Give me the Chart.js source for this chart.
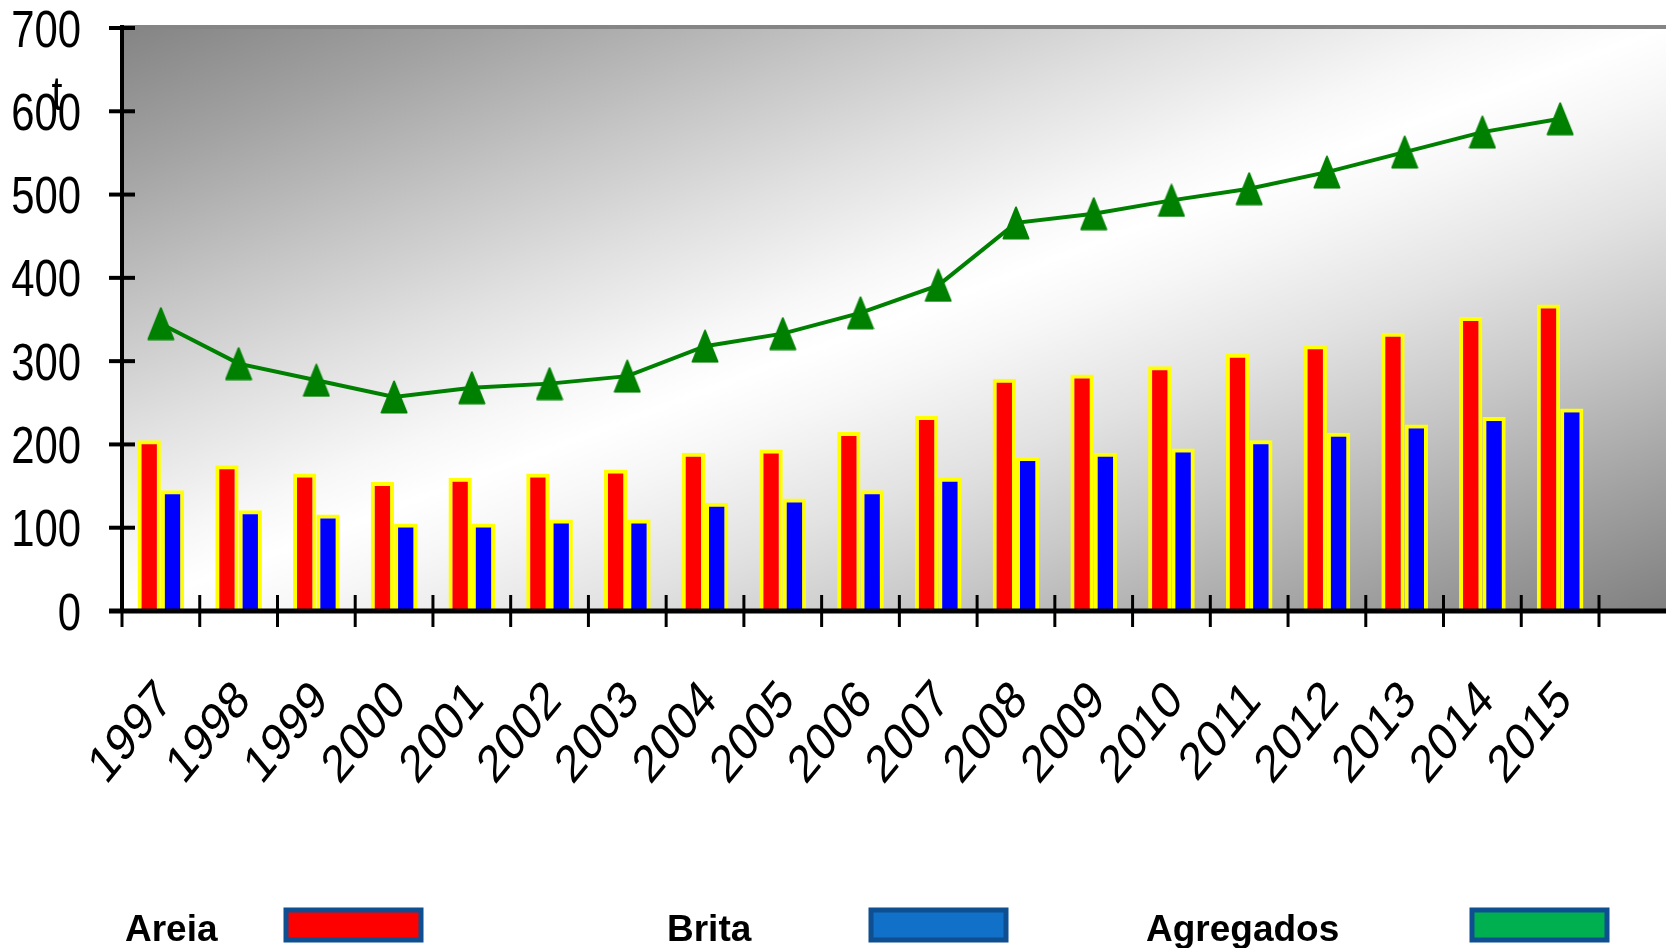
<!DOCTYPE html>
<html><head><meta charset="utf-8">
<script src="https://cdn.jsdelivr.net/npm/chart.js@4.4.1/dist/chart.umd.min.js"></script>
<style>html,body{margin:0;padding:0;background:#fff;overflow:hidden}canvas{display:block}</style>
</head><body>
<canvas id="c" width="1666" height="948"></canvas>
<script>
const years = ['1997','1998','1999','2000','2001','2002','2003','2004','2005','2006','2007','2008','2009','2010','2011','2012','2013','2014','2015'];
const areia = [205,175,165,155,160,165,170,190,194,215,234,279,284,294,309,319,334,353,368];
const brita = [145,121,116,105,105,110,110,130,135,145,160,185,190,195,205,214,224,233,243];
const agregados = [345,297,277,257,268,273,282,318,333,358,391,466,477,493,507,527,551,575,591];
const yTickValues = [0,100,200,300,400,500,600,700];
const unitLabel = 't';
const legendLabels = ['Areia','Brita','Agregados'];
const legendFills = ['#ff0000','#1170c8','#00b050'];

const SQ = 0.82; // horizontal squeeze of text seen in the reference
const FONT = '"Liberation Sans", Arial, sans-serif';

function makeTriangle(){
  const c=document.createElement('canvas'); c.width=28; c.height=34;
  const g=c.getContext('2d'); g.fillStyle='#008000'; g.strokeStyle='#008000'; g.lineWidth=2; g.lineJoin='round';
  g.beginPath(); g.moveTo(14,1.5); g.lineTo(26.5,32.5); g.lineTo(1.5,32.5); g.closePath(); g.fill(); g.stroke();
  return c;
}
const tri = makeTriangle();

const decor = {
  id:'decor',
  beforeDraw(chart){
    const {ctx, chartArea:a} = chart;
    const L=a.left, T=a.top, R=chart.width, B=a.bottom;
    const w=R-L, h=B-T, cx=(L+R)/2, cy=(T+B)/2, k=w*h/(w*w+h*h);
    const g=ctx.createLinearGradient(cx-k*h, cy-k*w, cx+k*h, cy+k*w);
    [[0,'#848484'],[0.12,'#a2a2a2'],[0.25,'#c6c6c6'],[0.35,'#e0e0e0'],[0.45,'#f7f7f7'],[0.5,'#ffffff'],
     [0.55,'#f7f7f7'],[0.65,'#e2e2e2'],[0.75,'#c8c8c8'],[0.88,'#a2a2a2'],[1,'#808080']].forEach(s=>g.addColorStop(s[0],s[1]));
    ctx.save(); ctx.fillStyle=g; ctx.fillRect(L,T,w,h); ctx.restore();
  },
  afterDatasetsDraw(chart){
    const {ctx, chartArea:a, scales:{x,y}} = chart;
    ctx.save();
    ctx.strokeStyle='#858585'; ctx.lineWidth=4;
    ctx.beginPath(); ctx.moveTo(a.left, a.top-1); ctx.lineTo(chart.width, a.top-1); ctx.stroke();
    ctx.strokeStyle='#000';
    ctx.lineWidth=4; ctx.beginPath(); ctx.moveTo(a.left, a.top-3); ctx.lineTo(a.left, a.bottom+2); ctx.stroke();
    yTickValues.forEach(v=>{ const py=y.getPixelForValue(v); ctx.beginPath(); ctx.moveTo(a.left-13,py); ctx.lineTo(a.left+13,py); ctx.stroke(); });
    ctx.lineWidth=5; ctx.beginPath(); ctx.moveTo(a.left-13, a.bottom); ctx.lineTo(chart.width, a.bottom); ctx.stroke();
    ctx.lineWidth=3;
    for(let i=0;i<=years.length;i++){ const px=x.getPixelForValue(i-0.5); ctx.beginPath(); ctx.moveTo(px,a.bottom-16); ctx.lineTo(px,a.bottom+16); ctx.stroke(); }
    ctx.restore();
  },
  afterDraw(chart){
    const {ctx, scales:{x,y}} = chart;
    ctx.save();
    ctx.fillStyle='#000';
    ctx.font='51px '+FONT; ctx.textAlign='right'; ctx.textBaseline='middle';
    yTickValues.forEach(v=>{
      const py=y.getPixelForValue(v)+4.5;
      ctx.save(); ctx.translate(81,py); ctx.scale(SQ,1); ctx.fillText(String(v),0,0); ctx.restore();
    });
    ctx.font='48px '+FONT; ctx.textAlign='center'; ctx.textBaseline='alphabetic';
    ctx.save(); ctx.translate(57,110); ctx.scale(SQ,1); ctx.fillText(unitLabel,0,0); ctx.restore();
    ctx.font='53px '+FONT; ctx.textAlign='right'; ctx.textBaseline='middle';
    years.forEach((t,i)=>{
      const px=x.getPixelForValue(i);
      ctx.save(); ctx.translate(px+5,692); ctx.scale(SQ,1); ctx.rotate(-Math.PI/4); ctx.fillText(t,0,0); ctx.restore();
    });
    const textX=[125,667,1146], boxX=[286,871,1472];
    ctx.font='bold 37px '+FONT; ctx.textAlign='left'; ctx.textBaseline='alphabetic';
    legendLabels.forEach((t,i)=>{
      ctx.fillStyle='#000'; ctx.fillText(t,textX[i],941);
      ctx.fillStyle=legendFills[i]; ctx.fillRect(boxX[i],910,135,30);
      ctx.strokeStyle='#0e4f91'; ctx.lineWidth=5; ctx.strokeRect(boxX[i],910,135,30);
    });
    ctx.restore();
  }
};

new Chart(document.getElementById('c'), {
  type:'bar',
  data:{
    labels: years,
    datasets:[
      {type:'line', label:legendLabels[2], data:agregados, borderColor:'#008000', backgroundColor:'#008000', borderWidth:4,
       pointStyle:tri, pointRadius:14, pointHoverRadius:14, tension:0, order:0},
      {label:legendLabels[0], data:areia, backgroundColor:'#ff0000', borderColor:'#ffff00', borderWidth:4, order:1,
       categoryPercentage:0.6, barPercentage:1.0},
      {label:legendLabels[1], data:brita, backgroundColor:'#0000ff', borderColor:'#ffff00', borderWidth:4, order:1,
       categoryPercentage:0.6, barPercentage:1.0}
    ]
  },
  options:{
    responsive:false, animation:false, devicePixelRatio:1,
    layout:{padding:{top:28, right:67, left:0, bottom:0}, autoPadding:false},
    plugins:{legend:{display:false}, tooltip:{enabled:false}},
    scales:{
      x:{
        offset:true,
        grid:{display:false, offset:true}, border:{display:false},
        ticks:{display:false},
        afterFit(s){ s.height=337; s.paddingLeft=0; s.paddingRight=0; }
      },
      y:{
        min:0, max:700,
        grid:{display:false}, border:{display:false},
        afterBuildTicks(s){ s.ticks = yTickValues.map(v=>({value:v})); },
        ticks:{display:false},
        afterFit(s){ s.width=122; s.paddingTop=0; s.paddingBottom=0; }
      }
    }
  },
  plugins:[decor]
});
</script>
</body></html>
